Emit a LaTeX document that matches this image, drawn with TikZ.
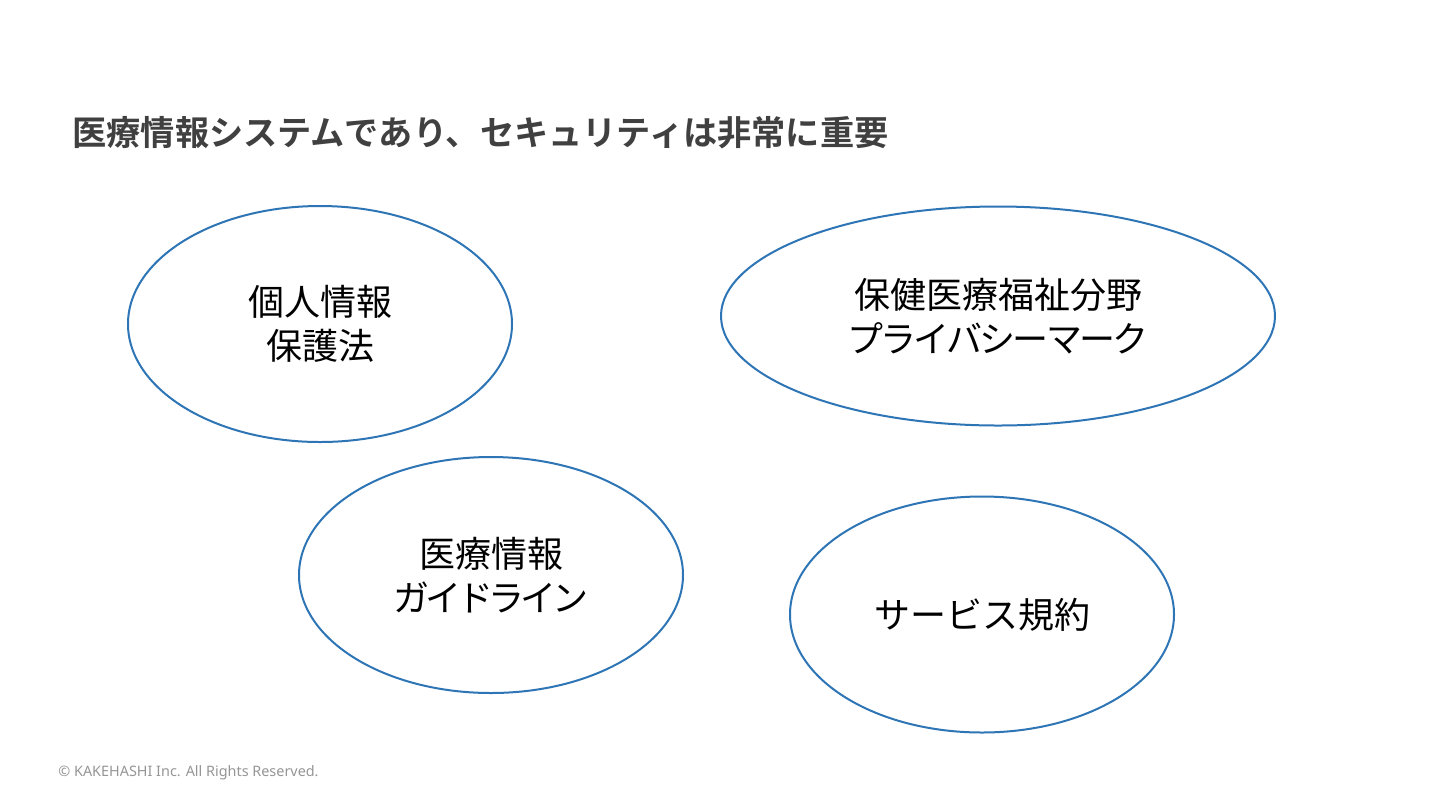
\documentclass[tikz,border=0pt]{standalone}
\usepackage{fontspec}
\setmainfont{Noto Sans}
\newfontfamily\jp{Noto Sans CJK JP}
\newfontfamily\jpb{Noto Sans CJK JP Bold}
\newfontfamily\jpkana{Noto Sans CJK JP}[LetterSpace=-7.5]
\newfontfamily\jpkanab{Noto Sans CJK JP}[LetterSpace=-12]
\usetikzlibrary{shapes.geometric}
\definecolor{ringblue}{RGB}{46,117,182}
\definecolor{titlegray}{RGB}{64,64,64}
\definecolor{footgray}{RGB}{150,150,150}
\tikzset{
  ring/.style={draw=ringblue, line width=1pt, ellipse, inner sep=0pt, align=center,
    font=\jp\fontsize{18pt}{22pt}\selectfont, text=black},
}
\begin{document}
\begin{tikzpicture}[x=0.5pt,y=-0.5pt]
\useasboundingbox[fill=white] (0,0) rectangle (1440,810);
\node[anchor=west, inner sep=0pt, text=titlegray, font=\jpb\fontsize{17.1pt}{20pt}\selectfont] (title) at (72,133) {医療情報システムであり、セキュリティは非常に重要};
\node[ring, minimum width=192pt, minimum height=118pt] (e1) at (320,324) {個人情報\\保護法};
\node[ring, minimum width=277pt, minimum height=109.5pt] (e2) at (998,316) {保健医療福祉分野\\{\jpkana プライバシーマーク}};
\node[ring, minimum width=192pt, minimum height=118pt] (e3) at (491,575) {医療情報\\{\jpkanab ガイドライン}};
\node[ring, minimum width=192pt, minimum height=118pt] (e4) at (982,614.5) {サービス規約};
\node[anchor=west, inner sep=0pt, text=footgray, font=\fontsize{7.2pt}{9pt}\selectfont] (foot) at (58,773) {© KAKEHASHI Inc. All Rights Reserved.};
\end{tikzpicture}
\end{document}
